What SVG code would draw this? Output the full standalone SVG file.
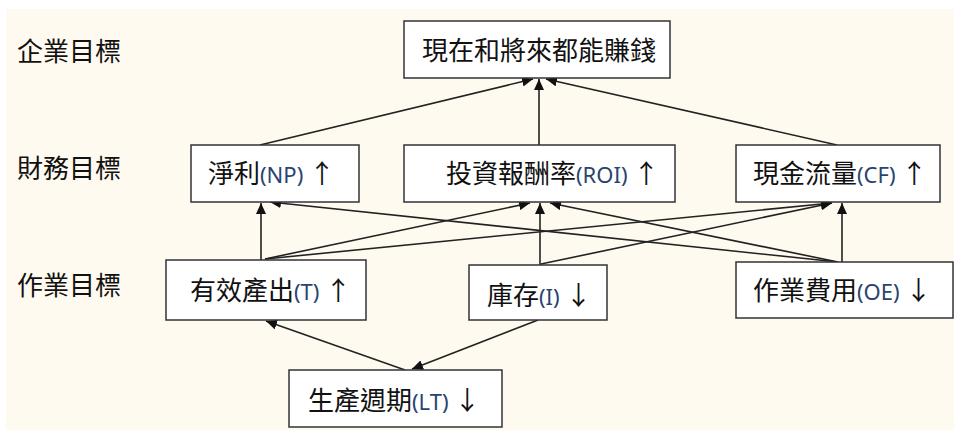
<svg xmlns="http://www.w3.org/2000/svg" width="954" height="432" viewBox="0 0 954 432">
<defs>
<style>
.box{fill:#ffffff;stroke:#333333;stroke-width:1.5}
.t{font-family:"Noto Sans CJK TC","Noto Sans CJK SC",sans-serif;font-size:26px;fill:#111111}
.l{font-family:"Noto Sans","Open Sans",sans-serif;font-size:22px;fill:#2a4470}
.c{stroke:#222222;stroke-width:1.6;fill:none;marker-end:url(#ah)}
</style>
<marker id="ah" markerUnits="userSpaceOnUse" markerWidth="12" markerHeight="10" refX="11" refY="5" orient="auto">
<path d="M0,0 L11,5 L0,10 z" fill="#111111"/>
</marker>
</defs>
<rect x="0" y="0" width="954" height="432" fill="#ffffff"/>
<rect x="6" y="9" width="948" height="421" fill="#fffaf0"/>
<g id="levels">
<text class="t" x="17" y="61">企業目標</text>
<text class="t" x="17" y="178">財務目標</text>
<text class="t" x="17" y="295">作業目標</text>
</g>
<g id="connectors">
<line class="c" x1="260" y1="145" x2="533" y2="79"/>
<line class="c" x1="539" y1="145" x2="539" y2="79"/>
<line class="c" x1="837" y1="145" x2="546" y2="79"/>
<line class="c" x1="261" y1="260" x2="261" y2="203"/>
<line class="c" x1="265" y1="259" x2="530" y2="203"/>
<line class="c" x1="265" y1="259" x2="832" y2="203"/>
<line class="c" x1="540" y1="265" x2="540" y2="203"/>
<line class="c" x1="541" y1="264" x2="832" y2="203"/>
<line class="c" x1="842" y1="262" x2="842" y2="203"/>
<line class="c" x1="838" y1="262" x2="270" y2="202"/>
<line class="c" x1="838" y1="262" x2="550" y2="203"/>
<line class="c" x1="405" y1="370" x2="266" y2="321"/>
<line class="c" x1="538" y1="320" x2="412" y2="369"/>
</g>
<g id="n-goal">
<rect class="box" x="404" y="21" width="266" height="57"/>
<text class="t" x="422" y="60">現在和將來都能賺錢</text>
</g>
<g id="n-np">
<rect class="box" x="191" y="145" width="168" height="57"/>
<text class="t" x="208" y="183">淨利<tspan class="l">(NP)</tspan> ↑</text>
</g>
<g id="n-roi">
<rect class="box" x="404" y="145" width="271" height="57"/>
<text class="t" x="446" y="183">投資報酬率<tspan class="l">(ROI)</tspan> ↑</text>
</g>
<g id="n-cf">
<rect class="box" x="736" y="145" width="204" height="57"/>
<text class="t" x="753" y="183">現金流量<tspan class="l">(CF)</tspan> ↑</text>
</g>
<g id="n-t">
<rect class="box" x="166" y="260" width="200" height="60"/>
<text class="t" x="190" y="300">有效產出<tspan class="l">(T)</tspan> ↑</text>
</g>
<g id="n-i">
<rect class="box" x="469" y="265" width="138" height="55"/>
<text class="t" x="487" y="305">庫存<tspan class="l">(I)</tspan> ↓</text>
</g>
<g id="n-oe">
<rect class="box" x="736" y="262" width="217" height="56"/>
<text class="t" x="753" y="300">作業費用<tspan class="l">(OE)</tspan> ↓</text>
</g>
<g id="n-lt">
<rect class="box" x="289" y="370" width="213" height="57"/>
<text class="t" x="308" y="410">生產週期<tspan class="l">(LT)</tspan> ↓</text>
</g>
</svg>
